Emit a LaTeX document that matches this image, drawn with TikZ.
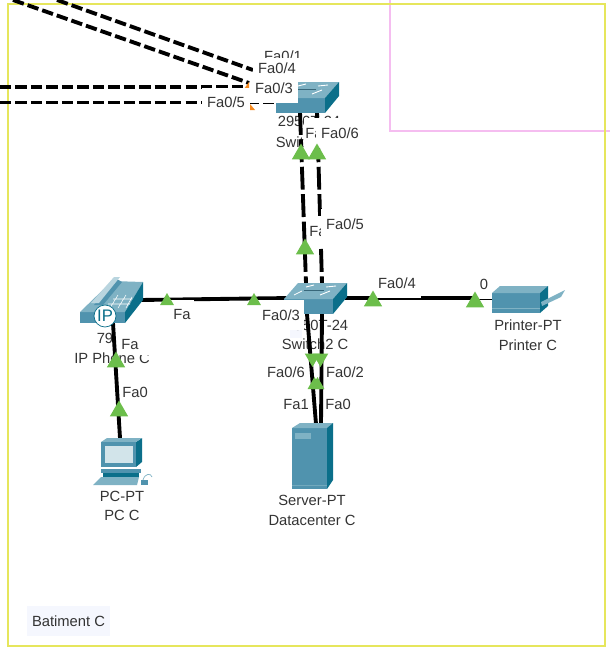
\documentclass[tikz,border=0pt]{standalone}
\usepackage{fontspec}
\setmainfont{Liberation Sans}
\usetikzlibrary{shapes.geometric}

\definecolor{devfront}{HTML}{5093AE}
\definecolor{devtop}{HTML}{7FB2C4}
\definecolor{devside}{HTML}{0B6F8A}
\definecolor{linkgreen}{HTML}{6CBE4B}
\definecolor{linkorange}{HTML}{F58A1F}
\definecolor{frameyellow}{HTML}{E6E65C}
\definecolor{framepink}{HTML}{F5BDF0}
\definecolor{labelgrey}{HTML}{333333}
\definecolor{notefill}{HTML}{F5F7FE}

\tikzset{
  cable/.style={line width=2.2pt,black},
  cabledash/.style={cable,dash pattern=on 13pt off 2.6pt},
  cablefine/.style={cable,dash pattern=on 6.5pt off 2.3pt},
  tri/.style={regular polygon,regular polygon sides=3,fill=linkgreen,inner sep=0pt,minimum size=0.42cm},
  trismall/.style={tri,minimum size=0.32cm},
  tridown/.style={tri,minimum size=0.36cm,shape border rotate=180},
  devlabel/.style={text=labelgrey,font=\fontsize{8.4}{10}\selectfont,inner sep=0pt},
  portlabel/.style={devlabel,fill=white,inner xsep=3pt,minimum height=0.42cm},
  portwide/.style={portlabel,minimum height=0.6cm},
  portplain/.style={devlabel},
  pics/switchdev/.style={code={
    \fill[devfront] (0,0) rectangle (49,15);
    \fill[devtop] (0,0) -- (14,-16) -- (63,-16) -- (49,0) -- cycle;
    \fill[devside] (49,0) -- (63,-16) -- (63,-2) -- (49,15) -- cycle;
    \draw[white,line width=0.5pt] (10,-4) -- (18,-8) (22,-12) -- (30,-14) (36,-4) -- (46,-8) (42,-12) -- (52,-13);
    \draw[devfront!70!black,line width=0.4pt] (20,-9) -- (40,-9);
  }},
  pics/phonedev/.style={code={
    \fill[devfront] (0,0) rectangle (45,11);
    \fill[devtop] (0,0) -- (32,-31) -- (63,-30) -- (45,0) -- cycle;
    \fill[devside] (45,0) -- (63,-30) -- (63,-12) -- (45,11) -- cycle;
    \fill[devfront] (14,-7) -- (37,-33) -- (42,-30) -- (23,-7) -- cycle;
    \fill[devtop!55!white] (11,-9) -- (34,-35) -- (40,-35) -- (19,-9) -- cycle;
    \draw[white,line width=0.3pt] (30,-4) -- (38,-17) (38,-4) -- (46,-17) (46,-4) -- (52,-15)
      (28,-8) -- (50,-8) (33,-13) -- (52,-13);
  }},
  pics/pcdev/.style={code={
    \fill[devside] (35,0) -- (41,-4) -- (41,20) -- (35,25) -- cycle;
    \fill[devtop] (0,0) -- (6,-4) -- (41,-4) -- (35,0) -- cycle;
    \fill[devfront] (0,0) rectangle (35,25);
    \fill[devtop!35!white] (4,4) rectangle (32,21);
    \fill[devfront] (0,27) rectangle (40,31);
    \fill[devside] (2,31) rectangle (38,35);
    \fill[devtop] (-8,43) -- (0,35) -- (38,35) -- (36,43) -- cycle;
    \fill[devfront] (40,38) rectangle (47,43);
    \draw[devtop,line width=0.4pt] (42,38) .. controls (44,31) and (50,31) .. (51,35);
  }},
  pics/serverdev/.style={code={
    \fill[devfront] (0,0) rectangle (35,61);
    \fill[devtop] (0,0) -- (8,-5) -- (41,-5) -- (35,0) -- cycle;
    \fill[devside] (35,0) -- (41,-5) -- (41,52) -- (35,61) -- cycle;
    \fill[devtop] (3,5) rectangle (19,11);
    \fill[devtop!70!devfront] (0,57) rectangle (35,58);
  }},
  pics/printerdev/.style={code={
    \fill[devfront] (0,0) rectangle (48,20);
    \fill[devtop] (0,0) -- (8,-7) -- (56,-7) -- (48,0) -- cycle;
    \fill[devside] (48,0) -- (56,-7) -- (56,13) -- (48,20) -- cycle;
    \fill[devtop] (0,15) rectangle (48,16);
    \fill[devtop] (49,9) -- (73,-3) -- (69,4) -- (50,13) -- cycle;
  }},
}

\begin{document}
\begin{tikzpicture}[x=0.02cm,y=-0.02cm]
  \useasboundingbox (0,0) rectangle (609,649);

  %clusters
  \draw[framepink,line width=0.7pt] (390,-2) rectangle (612,131);
  \draw[frameyellow,line width=1pt] (8,4) rectangle (605,646);
  \node[fill=notefill,minimum width=1.66cm,minimum height=0.6cm,inner sep=0pt,devlabel] (noteC) at (68.5,621) {Batiment C};
  \fill[notefill] (290,328) rectangle (302,338);

  %ports
  \coordinate (swT-o) at (276,98);
  \coordinate (swC-o) at (284,299);
  \coordinate (phone-o) at (80,312);
  \coordinate (pc-o) at (101,442);
  \coordinate (srv-o) at (292,428);
  \coordinate (prn-o) at (492,293);
  \coordinate (far1) at (57,0);
  \coordinate (far2) at (13,0);
  \coordinate (far3) at (0,87);
  \coordinate (far4) at (0,102.5);
  \coordinate (swT-a) at (253,70);
  \coordinate (swT-b) at (249,83);
  \coordinate (swT-c) at (246,87);
  \coordinate (swT-d) at (276,102.5);
  \coordinate (swT-e) at (300,112);
  \coordinate (swT-f) at (317,112);
  \coordinate (swC-e) at (306,283);
  \coordinate (swC-f) at (322,283);
  \coordinate (swC-w) at (290,298);
  \coordinate (swC-r) at (345,298);
  \coordinate (swC-s) at (307,314);
  \coordinate (swC-t) at (322,314);
  \coordinate (phone-r) at (140,300);
  \coordinate (phone-d) at (113,323);
  \coordinate (pc-u) at (120,438);
  \coordinate (srv-a) at (316,424);
  \coordinate (srv-b) at (321,424);
  \coordinate (prn-w) at (493,298);

  %device labels
  \node[devlabel] (swTmodel) at (309,121) {2950T-24};
  \node[devlabel] (swTname) at (309,142) {Switch1 C};
  \node[devlabel] (swCmodel) at (317,325) {2950T-24};
  \node[devlabel] (swCname) at (315,344) {Switch2 C};
  \node[devlabel] (phonemodel) at (105,338) {79};
  \node[devlabel] (phonename) at (112,358) {IP Phone C};
  \node[devlabel] (pcmodel) at (122,496) {PC-PT};
  \node[devlabel] (pcname) at (122,515) {PC C};
  \node[devlabel] (srvmodel) at (312,500) {Server-PT};
  \node[devlabel] (srvname) at (312,520) {Datacenter C};
  \node[devlabel] (prnmodel) at (528,325) {Printer-PT};
  \node[devlabel] (prnname) at (528,345) {Printer C};
  \node[devlabel] (hiddenport) at (283,56) {Fa0/1};

  %links
  \draw[cablefine] (far1) -- (swT-a);
  \draw[cablefine] (far2) -- (swT-b);
  \draw[cablefine] (far3) -- (swT-c);
  \draw[cablefine] (far4) -- (swT-d);
  \draw[cabledash] (swT-e) -- (swC-e);
  \draw[cabledash] (swT-f) -- (swC-f);
  \draw[cable] (phone-r) -- (swC-w);
  \draw[cable] (swC-r) -- (prn-w);
  \draw[cable] (phone-d) -- (pc-u);
  \draw[cable] (swC-s) -- (srv-a);
  \draw[cable] (swC-t) -- (srv-b);
  \fill[linkorange] (249,82) -- (249,89) -- (244,89) -- cycle;

  %switch top
  \pic at (swT-o) {switchdev};
  \node[portlabel,minimum height=0.6cm] (pFa3) at (274,88) {Fa0/3};
  \node[portlabel] (pFa4) at (277,68) {Fa0/4};
  \node[portlabel,minimum height=0.56cm] (pFa5) at (226,102) {Fa0/5};
  \fill[linkorange] (250,104) -- (255,110) -- (250,110) -- cycle;
  \node[portwide,inner xsep=1pt] (pFaT) at (314,133) {Fa};
  \node[portwide] (pFa6) at (340,133) {Fa0/6};
  \node[tri] (t1) at (301,154) {};
  \node[tri] (t2) at (317,154) {};

  %switch centre
  \node[portwide,inner xsep=1pt] (pFaM) at (318,231) {Fa};
  \node[portwide] (pFa5b) at (345,224) {Fa0/5};
  \node[tri] (t3) at (305,249) {};
  \pic at (swC-o) {switchdev};
  \node[portwide,inner xsep=2.5pt] (pFa3b) at (281,315) {Fa0/3};
  \node[portwide] (pFa4b) at (397,283) {Fa0/4};
  \node[portwide,minimum width=0.34cm,inner xsep=0pt] (pZero) at (484,284) {0};
  \node[portlabel,minimum height=0.56cm,minimum width=0.5cm,inner xsep=0pt] (pFaL) at (182,314) {Fa};
  \node[trismall] (t4) at (167,301) {};
  \node[trismall] (t5) at (254,301) {};
  \node[tri] (t6) at (373,301) {};
  \node[tri] (t7) at (475,302) {};

  %phone and pc
  \pic at (phone-o) {phonedev};
  \filldraw[fill=white,draw=devside,line width=0.4pt] (105,316) circle (11);
  \node[devlabel,text=devside,font=\fontsize{9.5}{11}\selectfont] (phoneip) at (105,316) {IP};
  \node[portlabel,anchor=west,text width=0.5cm,inner xsep=2.3pt,align=left,minimum height=0.44cm] (pFaP) at (117,344) {Fa};
  \node[portplain] (pFa0P) at (135,392) {Fa0};
  \node[tri] (t8) at (116,362) {};
  \node[tri] (t9) at (119,411) {};
  \pic at (pc-o) {pcdev};

  %server
  \pic at (srv-o) {serverdev};
  \node[portplain] (pFa6b) at (286,372) {Fa0/6};
  \node[portplain] (pFa2) at (345,372) {Fa0/2};
  \node[portplain] (pFa1) at (296,404) {Fa1};
  \node[portplain] (pFa0) at (338,404) {Fa0};
  \node[tridown] (t10) at (312.5,358) {};
  \node[tridown] (t11) at (320.5,358) {};
  \node[trismall] (t12) at (314.5,385) {};
  \node[trismall] (t13) at (317.5,385) {};

  %printer
  \pic at (prn-o) {printerdev};
\end{tikzpicture}
\end{document}
